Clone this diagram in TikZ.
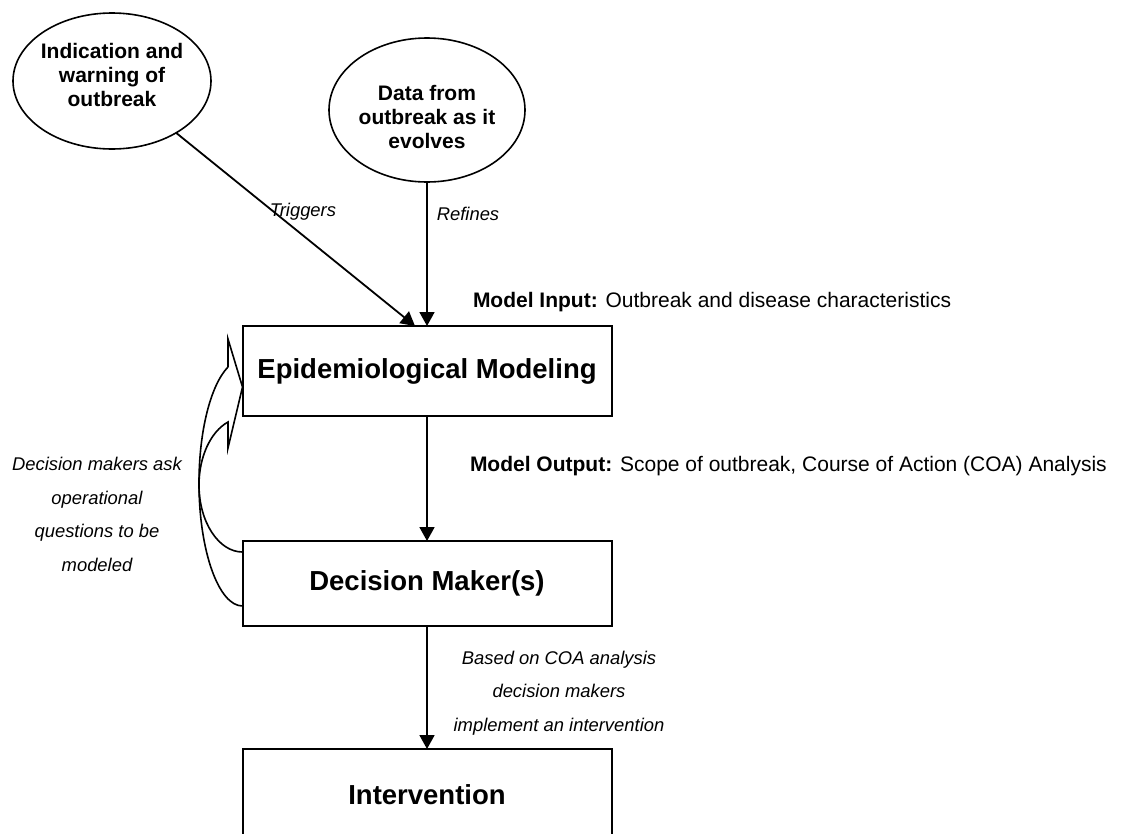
\documentclass[tikz,border=0pt]{standalone}
\usepackage{fontspec}
\setmainfont{Liberation Sans}
\usetikzlibrary{arrows.meta,shapes.geometric}

\begin{document}
\begin{tikzpicture}[x=1pt,y=-1pt,
  every node/.style={inner sep=0pt, outer sep=0pt},
  line/.style={line width=1.6pt, line join=miter},
  flow/.style={line width=1.8pt, -{Triangle[length=14pt,width=15pt]}},
  stage/.style={draw, line width=2pt, minimum width=369pt,
    font=\bfseries\fontsize{27.5}{33}\selectfont},
  source/.style={draw, ellipse, line width=1.6pt},
  srctext/.style={align=center, font=\bfseries\fontsize{21}{24}\selectfont},
  note/.style={align=center, font=\itshape\fontsize{18.4}{33.5}\selectfont},
  model/.style={anchor=west, font=\fontsize{21}{25}\selectfont},
]
\useasboundingbox (0,0) rectangle (1124,833);
\clip (0,0) rectangle (1124,833);

% information sources
\node[source, minimum width=198pt, minimum height=136pt] (warn) at (112,81) {};
\node[srctext] (warntext) at (112,75) {Indication and\\warning of\\outbreak};
\node[source, minimum width=196pt, minimum height=144pt] (data) at (427,110) {};
\node[srctext] (datatext) at (427,117) {Data from\\outbreak as it\\evolves};

% main chain
\node[stage, minimum height=90pt] (epi) at (427,371) {Epidemiological Modeling};
\node[stage, minimum height=85pt] (dm) at (427,583.5) {Decision Maker(s)};
\node[stage, minimum height=92pt] (int) at (427,795) {Intervention};

% connectors
\coordinate (trigend) at (415,326);
\draw[flow] (warn) -- (trigend);
\draw[flow] (data.south) -- (data.south |- epi.north);
\draw[flow] (epi.south) -- (dm.north);
\draw[flow] (dm.south) -- (int.north);

% curved block arrow from the decision makers back to the model
\draw[line] (228,367) -- (228,339) -- (epi.west |- 0,387) -- (228,448) -- (228,422)
  .. controls (210.57,431.67) and (199,456.83) .. (199,485)
  .. controls (199,522) and (218.7,552) .. (dm.west |- 0,552);
\draw[line] (228,367)
  .. controls (210.57,385.11) and (199,431.29) .. (199,483)
  .. controls (199,550.93) and (218.7,606) .. (dm.west |- 0,606);

% labels
\node[note] (trig) at (303,212) {Triggers};
\node[note] (refi) at (468,214) {Refines};
\node[model] (minput) at (473,302) {\textbf{Model Input:} Outbreak and disease characteristics};
\node[model] (moutput) at (470,466) {\textbf{Model Output:} Scope of outbreak, Course of Action (COA) Analysis};
\node[note] (ask) at (97,514.5) {Decision makers ask\\operational\\questions to be\\modeled};
\node[note] (coa) at (559,693) {Based on COA analysis\\decision makers\\implement an intervention};
\end{tikzpicture}
\end{document}
